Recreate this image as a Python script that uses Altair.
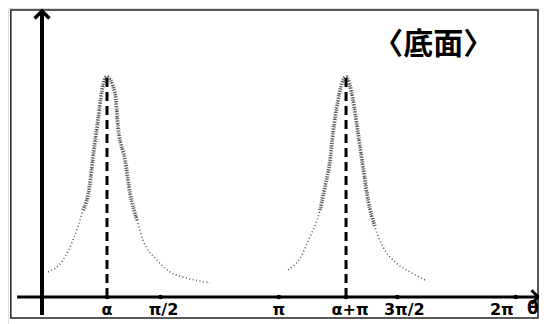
import altair as alt
import pandas as pd
import numpy as np

PI = float(np.pi)

# Curve around alpha (theta in radians, relative intensity)
curve1_theta = [0.080, 0.279, 0.411, 0.544, 0.637, 0.676, 0.743, 0.796, 0.862,
                0.968, 1.008, 1.101, 1.167, 1.260, 1.340, 1.525, 1.698, 1.923, 2.228]
curve1_value = [0.114, 0.168, 0.259, 0.395, 0.518, 0.636, 0.805, 0.941, 1.000,
                0.927, 0.773, 0.623, 0.473, 0.350, 0.259, 0.168, 0.114, 0.086, 0.064]

# Curve around alpha + pi
curve2_theta = [3.263, 3.422, 3.554, 3.687, 3.753, 3.820, 3.859, 3.926, 3.979, 4.032,
                4.125, 4.191, 4.257, 4.324, 4.416, 4.523, 4.682, 4.881, 5.080]
curve2_value = [0.123, 0.177, 0.273, 0.395, 0.500, 0.623, 0.745, 0.895, 0.973, 1.000,
                0.895, 0.745, 0.591, 0.441, 0.318, 0.227, 0.159, 0.114, 0.077]

# Peak positions (dashed guides)
peak_theta = [0.862, 4.032]
peak_value = [1.0, 1.0]

# Tick labels on the theta axis
tick_labels = ["α", "π/2", "π", "α+π", "3π/2", "2π"]
tick_values = [0.862, PI / 2, PI, 4.032, 3 * PI / 2, 2 * PI]
tick_dx = [0, 3, 0, 4, 7, -14]

axis_label = "θ"
axis_label_theta = 6.51
title_text = "〈底面〉"

xs = alt.Scale(domain=[-0.451, 6.591], nice=False, zero=False)
ys = alt.Scale(domain=[-0.1227, 1.3136], nice=False, zero=False)


def X(f):
    return alt.X(f, type="quantitative", scale=xs, axis=None)


def Y(f):
    return alt.Y(f, type="quantitative", scale=ys, axis=None)


curves = pd.concat([
    pd.DataFrame({"theta": curve1_theta, "v": curve1_value, "s": "a"}),
    pd.DataFrame({"theta": curve2_theta, "v": curve2_value, "s": "b"}),
])

frame = alt.Chart(pd.DataFrame({"a": [-0.414], "b": [6.578], "c": [1.305], "d": [-0.095]})).mark_rect(
    fill=None, stroke="#222", strokeWidth=1.5
).encode(x=X("a"), x2="b", y=Y("c"), y2="d")

thin = alt.Chart(curves).mark_line(
    strokeDash=[1, 2.5], strokeWidth=1.6, color="#555", interpolate="monotone"
).encode(x=X("theta"), y=Y("v"), detail="s:N")

thick = alt.Chart(curves).transform_filter("datum.v >= 0.3").mark_line(
    strokeDash=[1, 1.4], strokeWidth=4, color="#555", interpolate="monotone"
).encode(x=X("theta"), y=Y("v"), detail="s:N")

peaks = pd.DataFrame({"theta": peak_theta, "v": peak_value, "z": [0.0, 0.0]})
guides = alt.Chart(peaks).mark_rule(
    strokeDash=[9, 5], strokeWidth=3, color="black"
).encode(x=X("theta"), y=Y("z"), y2="v")

xaxis_df = pd.DataFrame({"a": [-0.33], "b": [6.58], "z": [0.0]})
xaxis = alt.Chart(xaxis_df).mark_rule(strokeWidth=3, color="black").encode(
    x=X("a"), x2="b", y=Y("z"))

yaxis_df = pd.DataFrame({"z": [0.0], "a": [-0.082], "b": [1.30]})
yaxis = alt.Chart(yaxis_df).mark_rule(strokeWidth=4, color="black").encode(
    x=X("z"), y=Y("a"), y2="b")

xarrow = alt.Chart(pd.DataFrame({"t": [6.58], "v": [0.0]})).mark_point(
    shape="M -1 -1 L 0 0 L -1 1", filled=False, strokeWidth=3, size=180,
    color="black", opacity=1
).encode(x=X("t"), y=Y("v"))

yarrow = alt.Chart(pd.DataFrame({"t": [0.0], "v": [1.30]})).mark_point(
    shape="M -1 1 L 0 0 L 1 1", filled=False, strokeWidth=3.5, size=220,
    color="black", opacity=1
).encode(x=X("t"), y=Y("v"))

ticks_df = pd.DataFrame({"t": tick_values, "z": [0.0] * len(tick_values)})
tick_dots = alt.Chart(ticks_df).mark_circle(size=22, color="black", opacity=1).encode(
    x=X("t"), y=Y("z"))

label_layers = []
for lab, t, dx in zip(tick_labels, tick_values, tick_dx):
    label_layers.append(
        alt.Chart(pd.DataFrame({"t": [t], "ly": [-0.059], "label": [lab]})).mark_text(
            font="DejaVu Sans", fontSize=16, fontWeight="bold", color="black", dx=dx
        ).encode(x=X("t"), y=Y("ly"), text="label:N")
    )

theta_lab = alt.Chart(pd.DataFrame({"t": [axis_label_theta], "ly": [-0.055],
                                    "label": [axis_label]})).mark_text(
    font="DejaVu Sans", fontSize=17, fontWeight="bold", color="black"
).encode(x=X("t"), y=Y("ly"), text="label:N")

title = alt.Chart(pd.DataFrame({"t": [5.19], "v": [1.145], "label": [title_text]})).mark_text(
    font="Noto Sans CJK JP", fontSize=30, fontWeight="bold", color="black"
).encode(x=X("t"), y=Y("v"), text="label:N")

chart = alt.layer(
    frame, thin, thick, guides, xaxis, yaxis, xarrow, yarrow, tick_dots,
    *label_layers, theta_lab, title
).properties(
    width=531, height=316, autosize=alt.AutoSizeParams(type="none"), padding=0
).configure_view(stroke=None).configure(background="white")

chart.save("out.html", embed_options={"renderer": "svg", "actions": False})
